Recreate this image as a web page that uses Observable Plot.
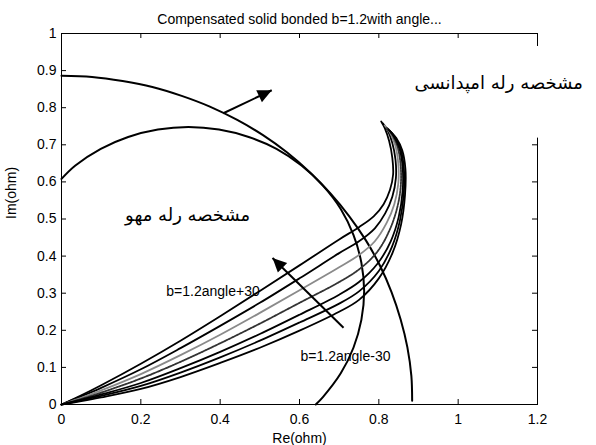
<!DOCTYPE html>
<html><head><meta charset="utf-8">
<script src="https://cdn.jsdelivr.net/npm/d3@7"></script>
<script src="https://cdn.jsdelivr.net/npm/@observablehq/plot@0.6"></script>
<style>body{margin:0;background:#fff}</style>
</head><body><div id="chart"></div>
<script>
const title = "Compensated solid bonded b=1.2with angle...";
const xLabel = "Re(ohm)";
const yLabel = "Im(ohm)";
const xTicks = [0, 0.2, 0.4, 0.6, 0.8, 1, 1.2];
const xTickLabels = ["0", "0.2", "0.4", "0.6", "0.8", "1", "1.2"];
const yTicks = [0, 0.1, 0.2, 0.3, 0.4, 0.5, 0.6, 0.7, 0.8, 0.9, 1];
const yTickLabels = ["0", "0.1", "0.2", "0.3", "0.4", "0.5", "0.6", "0.7", "0.8", "0.9", "1"];

// impedance relay characteristic
const impedanceCircle = [[0,0.886],[0.077,0.883],[0.154,0.872],[0.229,0.856],[0.303,0.832],[0.374,0.803],[0.443,0.767],[0.508,0.726],[0.569,0.679],[0.626,0.626],[0.678,0.569],[0.725,0.508],[0.767,0.443],[0.803,0.374],[0.832,0.303],[0.855,0.229],[0.872,0.154],[0.882,0.077],[0.884,0.01]];
// mho relay characteristic
const mhoCircle = [[0,0.608],[0.035,0.644],[0.099,0.689],[0.168,0.721],[0.243,0.741],[0.32,0.748],[0.397,0.741],[0.472,0.721],[0.542,0.689],[0.605,0.644],[0.659,0.59],[0.704,0.527],[0.736,0.457],[0.756,0.382],[0.763,0.305],[0.756,0.228],[0.736,0.153],[0.704,0.084],[0.659,0.02],[0.641,0]];
// impedance trajectories, angle +30 (top) ... angle -30 (bottom)
const trajA = [[0,0],[0.05,0.025],[0.1,0.052],[0.2,0.11],[0.3,0.172],[0.4,0.238],[0.5,0.306],[0.6,0.375],[0.7,0.445],[0.75,0.478],[0.787,0.507],[0.812,0.54],[0.828,0.578],[0.836,0.62],[0.834,0.665],[0.826,0.71],[0.815,0.745],[0.806,0.763]];
const trajB = [[0,0],[0.05,0.022],[0.1,0.045],[0.2,0.095],[0.3,0.152],[0.4,0.212],[0.5,0.274],[0.6,0.34],[0.7,0.408],[0.75,0.44],[0.79,0.475],[0.816,0.515],[0.834,0.56],[0.843,0.61],[0.842,0.66],[0.834,0.705],[0.822,0.74],[0.81,0.758]];
const trajC = [[0,0],[0.05,0.018],[0.1,0.038],[0.2,0.082],[0.3,0.133],[0.4,0.188],[0.5,0.247],[0.6,0.308],[0.7,0.37],[0.75,0.403],[0.79,0.44],[0.82,0.49],[0.839,0.54],[0.849,0.595],[0.849,0.65],[0.841,0.7],[0.827,0.735],[0.815,0.752]];
const trajD = [[0,0],[0.05,0.015],[0.1,0.032],[0.2,0.07],[0.3,0.115],[0.4,0.165],[0.5,0.218],[0.6,0.274],[0.7,0.33],[0.75,0.364],[0.795,0.41],[0.825,0.465],[0.845,0.525],[0.855,0.585],[0.855,0.645],[0.847,0.695],[0.832,0.73],[0.82,0.746]];
const trajE = [[0,0],[0.05,0.013],[0.1,0.027],[0.2,0.058],[0.3,0.098],[0.4,0.142],[0.5,0.19],[0.6,0.242],[0.7,0.296],[0.75,0.33],[0.797,0.38],[0.83,0.44],[0.85,0.505],[0.86,0.575],[0.86,0.64],[0.852,0.69],[0.837,0.725],[0.824,0.742]];
const trajF = [[0,0],[0.05,0.011],[0.1,0.023],[0.2,0.05],[0.3,0.086],[0.4,0.127],[0.5,0.172],[0.6,0.221],[0.7,0.272],[0.75,0.305],[0.8,0.36],[0.833,0.425],[0.853,0.495],[0.863,0.57],[0.863,0.638],[0.855,0.688],[0.84,0.722],[0.827,0.738]];
const trajG = [[0,0],[0.05,0.009],[0.1,0.019],[0.2,0.042],[0.3,0.074],[0.4,0.112],[0.5,0.153],[0.6,0.199],[0.7,0.25],[0.75,0.282],[0.8,0.34],[0.835,0.41],[0.856,0.485],[0.866,0.565],[0.867,0.635],[0.859,0.685],[0.844,0.718],[0.83,0.735]];
const trajectories = [trajA, trajB, trajC, trajD, trajE, trajF, trajG];
const trajColors = ["#000", "#000", "#8a8a8a", "#333", "#000", "#000", "#000"];

// arrows (data coordinates)
const arrowStart = [[0.408, 0.785], [0.711, 0.207]];
const arrowEnd = [[0.530, 0.847], [0.532, 0.395]];

// text annotations
const annotationText = ["مشخصه رله امپدانسی", "مشخصه رله مهو", "b=1.2angle+30", "b=1.2angle-30"];
const annotationX = [1.102, 0.318, 0.382, 0.716];
const annotationY = [0.866, 0.51, 0.304, 0.128];

const W = 596, H = 445, ML = 61, MR = 59, MT = 33, MB = 41;
const FW = W - ML - MR, FH = H - MT - MB;
const kx = FW / 1.2, ky = FH / 1;

const arrows = arrowStart.map((s, i) => {
  const e = arrowEnd[i];
  return {x1: s[0], y1: s[1], x2: e[0], y2: e[1],
    rot: Math.atan2((e[0] - s[0]) * kx, (e[1] - s[1]) * ky) * 180 / Math.PI};
});
const annotations = annotationText.map((t, i) => ({text: t, x: annotationX[i], y: annotationY[i]}));

const headSymbol = {
  draw(ctx, size) {
    const r = Math.sqrt(size / Math.PI);
    ctx.moveTo(0, 0);
    ctx.lineTo(-0.95 * r, 2 * r);
    ctx.lineTo(0.95 * r, 2 * r);
    ctx.closePath();
  }
};

const xy = {x: d => d[0], y: d => d[1]};
const persian = "DejaVu Sans, Noto Sans, sans-serif";

const plot = Plot.plot({
  width: W, height: H,
  marginLeft: ML, marginRight: MR, marginTop: MT, marginBottom: MB,
  style: {fontFamily: "Liberation Sans, Arial, Helvetica, sans-serif", fontSize: "14px", background: "#fff", color: "#000"},
  x: {domain: [0, 1.2], ticks: xTicks, tickSize: 0, tickPadding: 10, label: null,
      tickFormat: d => xTickLabels[xTicks.findIndex(t => Math.abs(t - d) < 1e-9)]},
  y: {domain: [0, 1], ticks: yTicks, tickSize: 0, tickPadding: 5, label: null,
      tickFormat: d => yTickLabels[yTicks.findIndex(t => Math.abs(t - d) < 1e-9)]},
  marks: [
    Plot.frame({stroke: "#000", strokeWidth: 1}),
    Plot.ruleX(xTicks, {insetTop: FH - 5, stroke: "#000"}),
    Plot.ruleX(xTicks, {insetBottom: FH - 5, stroke: "#000"}),
    Plot.ruleY(yTicks, {insetRight: FW - 5, stroke: "#000"}),
    Plot.ruleY(yTicks, {insetLeft: FW - 5, stroke: "#000"}),
    Plot.rect([0], {x1: 0.875, x2: 1.36, y1: 0.718, y2: 0.965, fill: "#fff"}),
    Plot.line(impedanceCircle, {...xy, stroke: "#000", strokeWidth: 2, curve: "catmull-rom"}),
    Plot.line(mhoCircle, {...xy, stroke: "#000", strokeWidth: 2, curve: "catmull-rom"}),
    ...trajectories.map((t, i) => Plot.line(t, {...xy, stroke: trajColors[i], strokeWidth: 1.8,
        strokeDasharray: i === 3 ? "2,1" : null, curve: "catmull-rom"})),
    Plot.link(arrows, {x1: "x1", y1: "y1", x2: "x2", y2: "y2", stroke: "#000", strokeWidth: 2}),
    Plot.dot(arrows, {x: "x2", y: "y2", rotate: "rot", symbol: headSymbol, r: 7, fill: "#000", stroke: "none"}),
    Plot.text([annotations[0]], {x: "x", y: "y", text: "text", fontFamily: persian, fontSize: 18, textAnchor: "middle"}),
    Plot.text([annotations[1]], {x: "x", y: "y", text: "text", fontFamily: persian, fontSize: 18, textAnchor: "middle"}),
    Plot.text(annotations.slice(2), {x: "x", y: "y", text: "text", fontSize: 14, textAnchor: "middle"}),
    Plot.text([title], {text: d => d, frameAnchor: "top", dy: -19, fontSize: 14}),
    Plot.text([xLabel], {text: d => d, frameAnchor: "bottom", lineAnchor: "top", dy: 29, fontSize: 14}),
    Plot.text([yLabel], {text: d => d, frameAnchor: "left", rotate: -90, dx: -50, fontSize: 14})
  ]
});
document.getElementById("chart").appendChild(plot);
</script>
</body></html>
